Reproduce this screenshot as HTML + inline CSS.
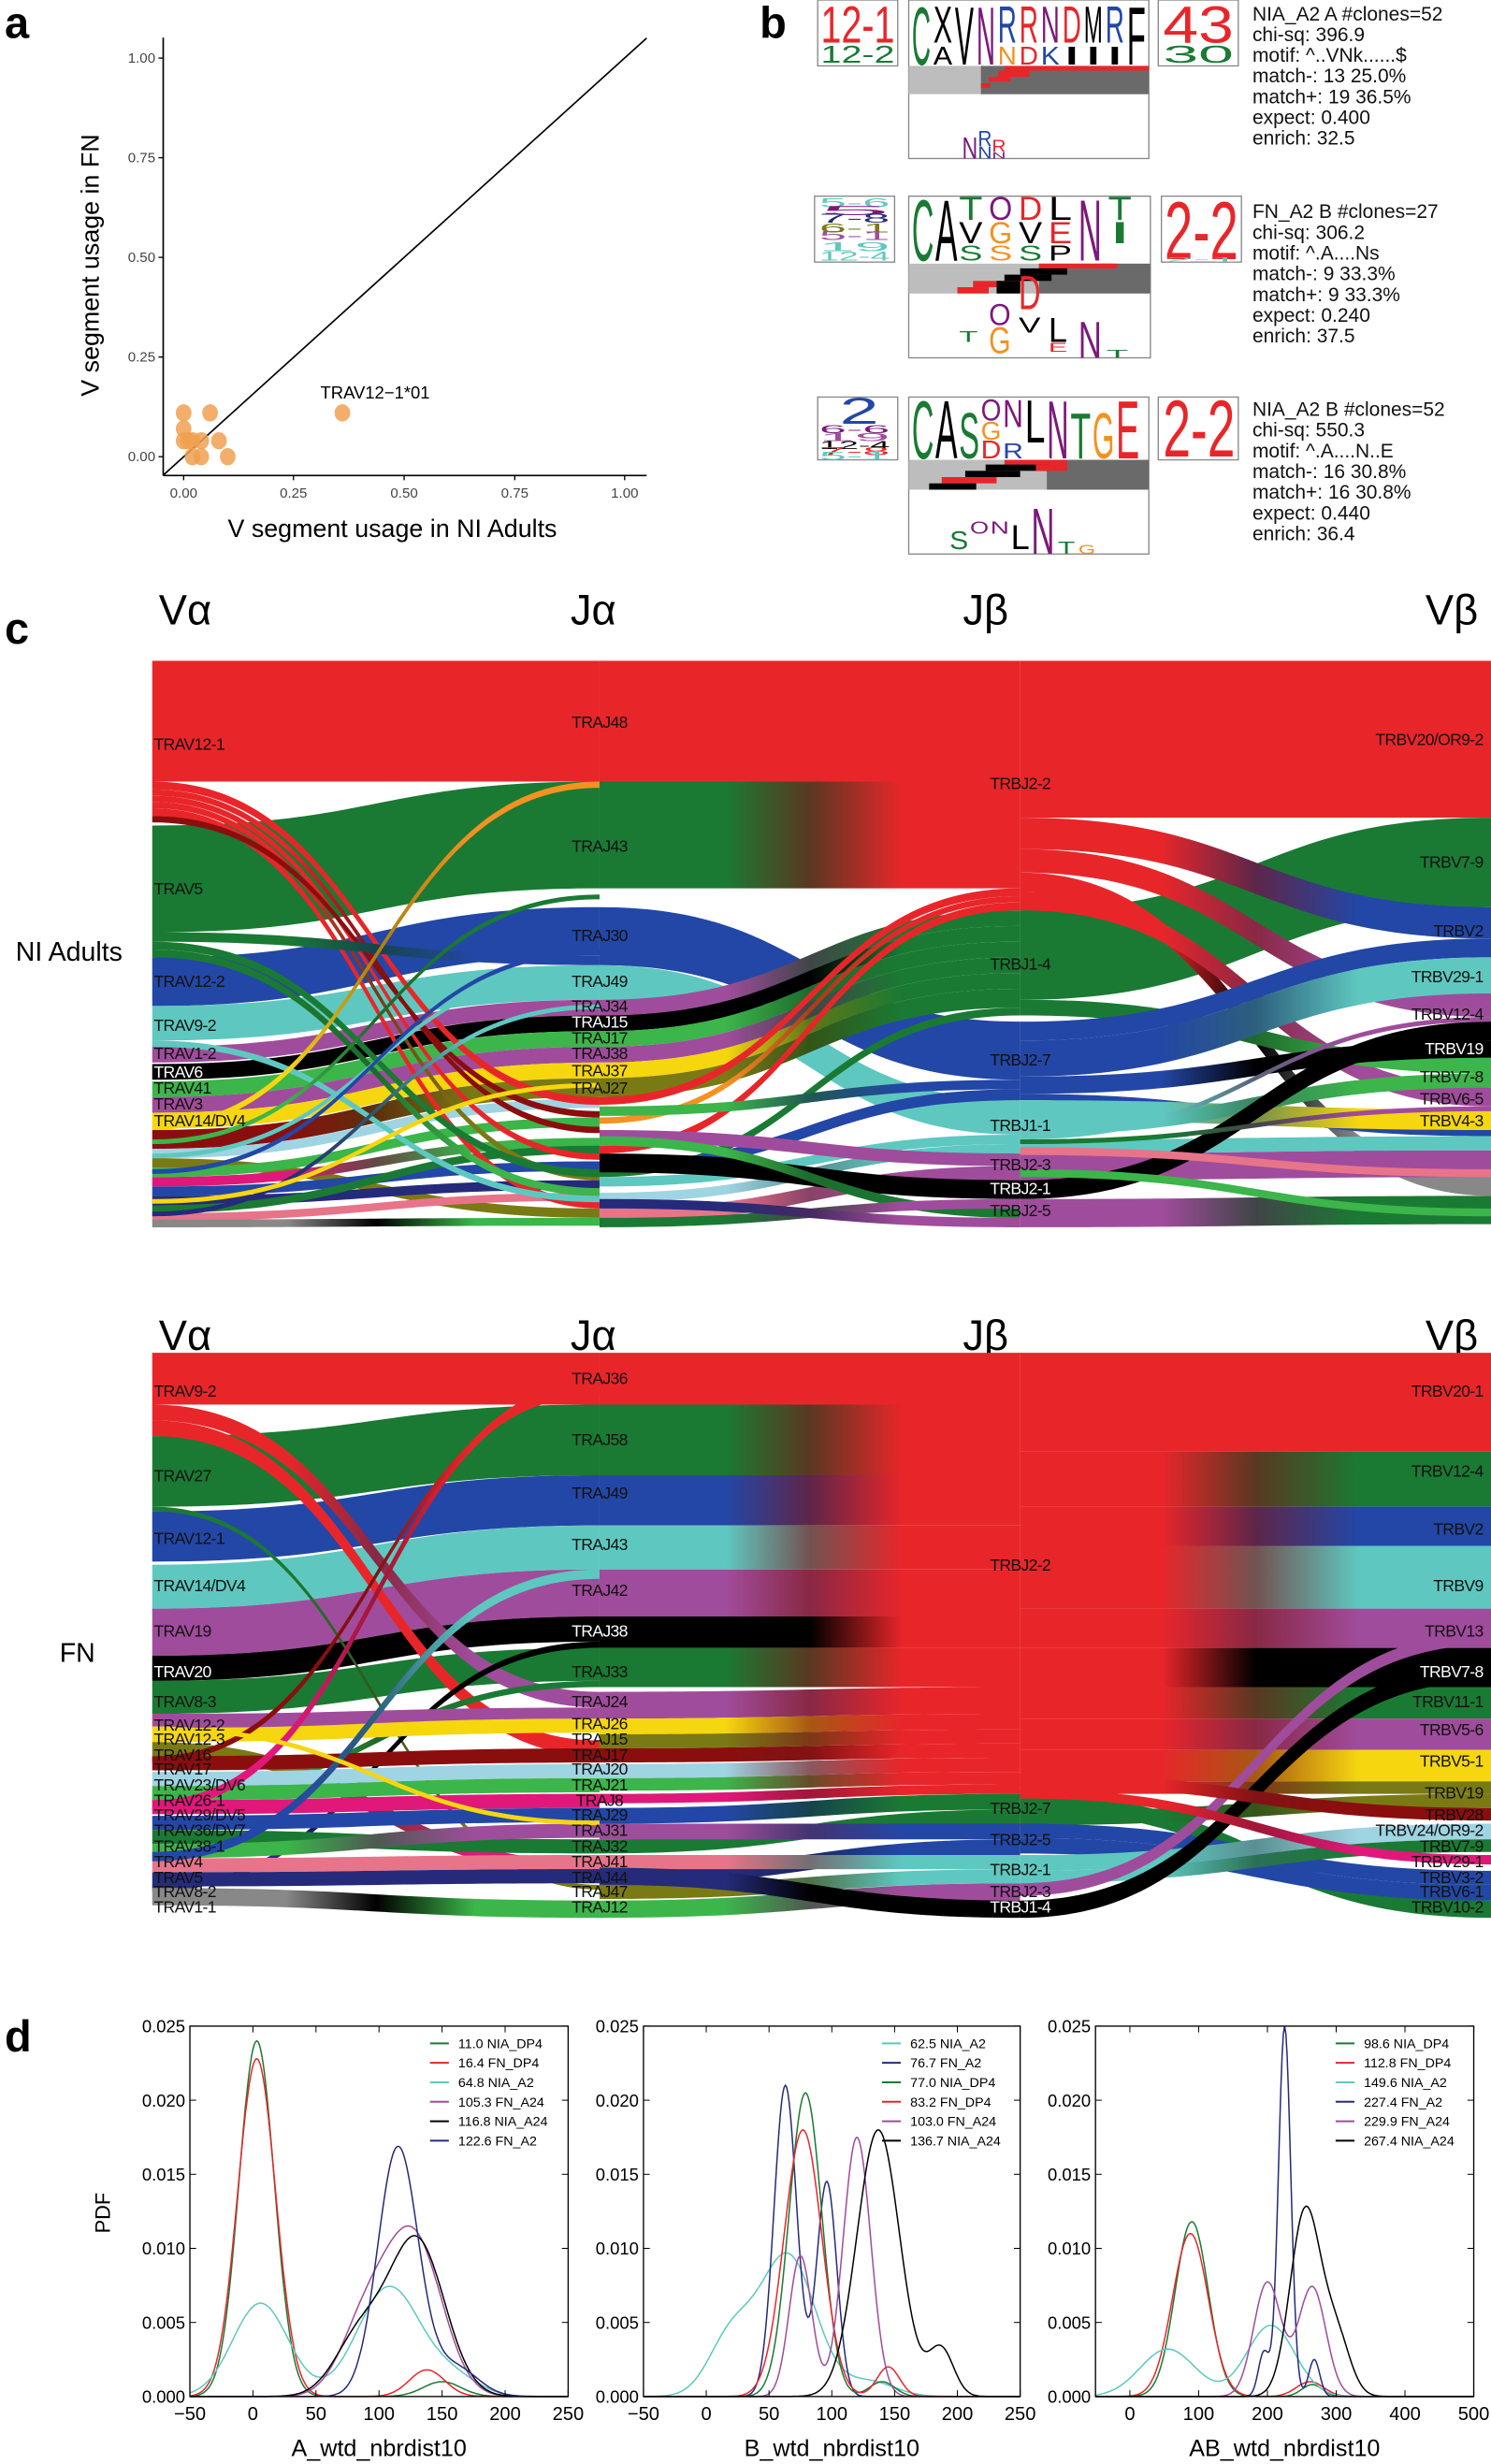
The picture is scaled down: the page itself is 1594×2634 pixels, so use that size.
<!DOCTYPE html>
<html><head><meta charset="utf-8"><style>
html,body{margin:0;padding:0;background:#fff;}
svg{display:block;font-family:"Liberation Sans",sans-serif;}
</style></head><body>
<svg id="s" width="1594" height="2634" viewBox="0 0 950 1570" preserveAspectRatio="none" xmlns="http://www.w3.org/2000/svg">
<defs id="defs"></defs>
<rect width="950" height="1570" fill="#fff"/>
<text x="3" y="24" font-size="28" font-weight="bold">a</text>
<g font-size="9" fill="#444">
<line x1="104" y1="24" x2="104" y2="303" stroke="#000" stroke-width="1"/>
<line x1="104" y1="303" x2="412" y2="303" stroke="#000" stroke-width="1"/>
<g stroke="#000" stroke-width="0.8">
<line x1="101" y1="37" x2="104" y2="37"/><line x1="101" y1="100.5" x2="104" y2="100.5"/><line x1="101" y1="164" x2="104" y2="164"/><line x1="101" y1="227.5" x2="104" y2="227.5"/><line x1="101" y1="291" x2="104" y2="291"/>
<line x1="117" y1="303" x2="117" y2="306"/><line x1="187" y1="303" x2="187" y2="306"/><line x1="257.5" y1="303" x2="257.5" y2="306"/><line x1="328" y1="303" x2="328" y2="306"/><line x1="398" y1="303" x2="398" y2="306"/>
</g>
<g text-anchor="end"><text x="99" y="40">1.00</text><text x="99" y="103.5">0.75</text><text x="99" y="167">0.50</text><text x="99" y="230.5">0.25</text><text x="99" y="294">0.00</text></g>
<g text-anchor="middle"><text x="117" y="317">0.00</text><text x="187" y="317">0.25</text><text x="257.5" y="317">0.50</text><text x="328" y="317">0.75</text><text x="398" y="317">1.00</text></g>
</g>
<line x1="104" y1="302.8" x2="412" y2="24.3" stroke="#000" stroke-width="1"/>
<g fill="#f0a050" fill-opacity="0.85" id="pts"></g>
<text x="239" y="254" font-size="11" text-anchor="middle">TRAV12−1*01</text>
<text x="250" y="342" font-size="16" text-anchor="middle">V segment usage in NI Adults</text>
<text transform="translate(63,169) rotate(-90)" font-size="16" text-anchor="middle">V segment usage in FN</text>
<text x="484" y="24" font-size="28" font-weight="bold">b</text>
<g id="logos"></g>
<g font-size="12.5" fill="#111" id="btext"></g>
<text x="3" y="410" font-size="28" font-weight="bold">c</text>
<g font-size="27" text-anchor="middle">
<text x="118" y="398">Vα</text><text x="378" y="398">Jα</text><text x="628" y="398">Jβ</text><text x="925" y="398">Vβ</text>
<text x="118" y="860">Vα</text><text x="378" y="860">Jα</text><text x="628" y="860">Jβ</text><text x="925" y="860">Vβ</text>
</g>
<text x="10" y="612" font-size="17">NI Adults</text>
<text x="38" y="1059" font-size="17">FN</text>
<g id="sank"></g>
<g id="slab" font-size="10.5" letter-spacing="-0.4" dominant-baseline="middle"></g>
<text x="3" y="1307" font-size="28" font-weight="bold">d</text>
<g id="pd"></g>
</svg>
<script>
const NS="http://www.w3.org/2000/svg";
function el(tag,attrs,parent,txt){const e=document.createElementNS(NS,tag);for(const k in attrs)e.setAttribute(k,attrs[k]);if(txt!==undefined)e.textContent=txt;parent.appendChild(e);return e;}
const pts=[[0,0.11],[0.06,0.11],[0,0.07],[0,0.04],[0.01,0.04],[0.02,0.04],[0.04,0.04],[0.08,0.04],[0.02,0],[0.04,0],[0.1,0],[0.36,0.11]];
const pg=document.getElementById('pts');
pts.forEach(p=>el('ellipse',{cx:117+p[0]*281,cy:291-p[1]*254,rx:5,ry:5.5},pg));
const lg=document.getElementById('logos');
function box(x,y,w,h){el('rect',{x:x,y:y,width:w,height:h,fill:'none',stroke:'#888','stroke-width':0.8},lg);}
function L(ch,x,yb,w,h,c){el('text',{x:0,y:0,'font-size':10,fill:c,textLength:w,lengthAdjust:'spacingAndGlyphs',transform:`translate(${x},${yb}) scale(1,${h/7.2})`},lg,ch);}
const R='#e8262a',G='#1a7a33',B='#2347a6',T='#5ec8c0',P='#a04c9c',K='#000',LG='#3cb54a',Y='#f6d60f',O='#7a7a14',DR='#8b0e0e',LB='#9fd4e3',PK='#e0187a',N='#252b7a',GR='#888',SA='#e8748a',OR='#f39220',PU='#7b1a7b',BL='#1f5fbf';
function band(x,y,w,h,split,rows){
 el('rect',{x:x,y:y,width:w,height:h,fill:'#bdbdbd'},lg);
 el('rect',{x:split,y:y,width:x+w-split,height:h,fill:'#6a6a6a'},lg);
 rows.forEach(r=>el('rect',{x:r[0],y:r[1],width:r[2],height:r[3],fill:r[4]},lg));
}
box(521,0,51,42);box(579,0,153,101);box(738,0,51,42);
L('12-1',523,27,47,24,R);L('12-2',523,40,47,11,G);
L('43',741,27,45,24,R);L('30',741,40,45,11,G);
const r1t='CXVNRRNDMRF',r1c=[G,K,K,PU,B,R,PU,R,K,B,K];
const r1b=' A KNDKIII',r1bc=[G,K,K,B,OR,R,B,K,K,K];
L('C',581,41,12,38,G);
for(let i=1;i<11;i++){const x=581+i*13.7;if(i===2||i===3||i===10){L(r1t[i],x,41,12,38,r1c[i]);continue;}L(r1t[i],x,27,12,24,r1c[i]);if(r1b[i]&&r1b[i]!==' ')L(r1b[i],x,41,12,12,r1bc[i]);}
L('A',594.7,41,12,12,K);
band(579,42,153,18,625,[[640,42,92,3,R],[636,45,20,4,R],[630,49,14,3,R],[625,53,6,3,R]]);
L('N',613,101,10,14,PU);L('R',623,93,9,10,B);L('N',623,101,9,8,B);L('R',632,97,9,8,R);L('N',632,101,9,4,PU);
const tb=(y0,lines)=>{const g=document.getElementById('btext');lines.forEach((s,i)=>el('text',{x:798,y:y0+i*13.2},g,s));};
tb(13,['NIA_A2 A #clones=52','chi-sq: 396.9','motif: ^..VNk......$','match-: 13 25.0%','match+: 19 36.5%','expect: 0.400','enrich: 32.5']);
box(519,125,51,42);box(579,125,154,103);box(740,125,51,42);
[['5-6',T,132],['5',PU,137],['7-8',N,142],['6-1',O,148],['5-1',P,153],['19',T,160],['12-4',T,166]].forEach(a=>L(a[0],522,a[2],45,6,a[1]));
L('2-2',742,165,47,38,R);L('2-1',742,167,47,3,T);
L('C',581,166,14,40,G);L('A',596,166,14,40,K);
const r2=[['T',G,'V',K,'S',G],['O',PU,'G',OR,'S',OR],['D',R,'V',K,'S',G],['L',K,'E',R,'P',K],['N',PU],['T',G,'I',G]];
r2.forEach((c,i)=>{const x=611+i*19;if(c.length===2){L(c[0],x,166,15,40,c[1]);}else{L(c[0],x,140,15,15,c[1]);L(c[2],x,155,15,14,c[3]);L(c[4],x,166,15,10,c[5]);}});
band(579,168,154,19,662,[[662,168,50,3,R],[650,171,30,4,K],[640,175,30,4,K],[620,179,30,4,R],[610,183,20,4,R],[635,179,15,8,K],[700,168,10,3,R]]);
L('O',630,207,14,14,PU);L('D',649,197,14,22,R);L('T',611,218,12,7,G);L('G',630,225,14,17,OR);L('V',649,212,14,10,K);L('L',668,218,12,16,K);L('E',668,224,12,6,R);L('N',687,228,15,24,PU);L('T',705,228,14,5,G);
tb(139,['FN_A2 B #clones=27','chi-sq: 306.2','motif: ^.A....Ns','match-: 9 33.3%','match+: 9 33.3%','expect: 0.240','enrich: 37.5']);
box(521,253,51,40);box(579,253,153,100);box(738,253,51,40);
L('2',535,270,25,17,B);[['6-6',PU,276],['19',P,281],['12-4',K,286],['7-8',R,290],['5-1',T,293]].forEach(a=>L(a[0],522,a[2],45,5,a[1]));
L('2-2',741,291,46,37,R);
L('C',581,292,14,38,G);L('A',596,292,14,38,K);
L('S',611,292,13,30,G);L('O',625,268,13,14,PU);L('G',625,280,13,12,OR);L('D',625,292,13,12,R);L('N',639,272,13,18,PU);L('R',639,292,13,10,B);L('L',653,282,13,28,K);L('N',667,292,14,38,PU);L('T',682,292,13,30,G);L('G',696,292,14,30,OR);L('E',711,292,15,38,R);
band(579,293,153,19,667,[[640,293,40,3,R],[628,296,40,4,K],[615,300,35,4,K],[600,304,35,4,R],[592,308,30,4,K],[660,296,20,4,R]]);
L('S',605,350,12,12,G);L('O',618,340,12,8,PU);L('N',631,340,12,8,PU);L('L',644,350,12,16,K);L('N',657,353,15,30,PU);L('T',674,353,11,8,G);L('G',687,353,11,6,OR);
tb(265,['NIA_A2 B #clones=52','chi-sq: 550.3','motif: ^.A....N..E','match-: 16 30.8%','match+: 16 30.8%','expect: 0.440','enrich: 36.4']);

const defs=document.getElementById('defs'),sg=document.getElementById('sank');
const X=[97,382,650,950];let gid=0;
function F(seg,y0,y1,h,c0,c1){
 const x0=X[seg],x1=X[seg+1],xm=(x0+x1)/2;
 let fill=c0;
 if(c0!==c1){const id='g'+(gid++);const g=el('linearGradient',{id:id,gradientUnits:'userSpaceOnUse',x1:x0,x2:x1,y1:0,y2:0},defs);
  el('stop',{offset:0.3,'stop-color':c0},g);el('stop',{offset:0.5,'stop-color':mix(c0,c1)},g);el('stop',{offset:0.72,'stop-color':c1},g);fill='url(#'+id+')';}
 el('path',{d:`M${x0},${y0}C${xm},${y0} ${xm},${y1} ${x1},${y1}L${x1},${y1+h}C${xm},${y1+h} ${xm},${y0+h} ${x0},${y0+h}Z`,fill:fill},sg);
}
function mix(a,b){const p=s=>[1,3,5].map(i=>parseInt(s.substr(i,2),16));const A=p(a),Bc=p(b);return 'rgb('+A.map((v,i)=>Math.round((v+Bc[i])/2*0.7)).join(',')+')';}
[[421,421,77,R,R],[526,498,68,G,G],[610,578,31,B,B],[641,615,22,T,T],[667,637,10,P,P],[678,647,10,K,K],[689,657,10,LG,LG],[699,667,10,P,P],[709,677,10,Y,Y],
[720,687,12,DR,O],[732,700,6,LB,LB],[738,770,6,O,O],[744,712,6,LG,LG],[750,725,6,PK,LG],[756,740,6,B,B],[762,752,6,N,N],[768,730,5,G,G],[773,760,5,SA,SA],[777,776,5,GR,LG],
[498,699,5,R,R],[503,718,4,R,DR],[507,735,4,R,R],[511,748,4,R,O],[515,765,5,R,R],[520,708,4,DR,DR],
[594,609,6,G,B],[600,745,5,G,G],[605,757,5,G,LG],[663,762,4,T,T],
[716,498,4,Y,OR],[726,570,3,LG,G],[735,615,3,T,T],[745,605,3,B,B],[772,640,3,N,T],[764,690,3,Y,Y]
].forEach(a=>F(0,...a));
[[421,421,77,R,R],[498,498,68,G,R],[578,651,37,B,B],[615,701,22,T,T],
[637,580,10,P,G],[647,590,10,K,G],[657,600,10,LG,G],[667,610,10,P,G],[677,620,10,Y,G],[687,630,12,O,G],
[699,566,5,R,R],[712,571,4,OR,R],[730,575,5,R,R],[745,642,5,G,G],
[705,688,6,LG,B],[740,694,7,B,B],[750,723,6,T,T],[760,729,6,LB,T],[720,735,8,P,P],[770,743,9,SA,P],[735,752,12,K,K],[724,770,6,LG,G],[776,764,6,G,P],[764,776,6,N,P]
].forEach(a=>F(1,...a));
[[421,421,100,R,R],[580,521,57,G,G],[521,578,20,R,B],[541,633,15,R,P],[556,750,12,R,GR],[568,693,12,R,P],[637,674,10,G,LG],
[651,598,12,B,B],[663,610,23,B,T],[686,663,11,B,K],[697,720,4,B,B],[701,707,13,T,Y],[714,684,9,T,LG],[723,648,3,T,P],[726,724,9,T,T],
[735,733,17,P,P],[752,651,12,K,K],[764,762,18,P,G],[726,705,3,G,P],[731,745,5,SA,SA],[745,770,5,LG,LG]
].forEach(a=>F(2,...a));
[[862,862,33,R,R],[915,895,45,G,G],[963,940,32,B,B],[997,972,28,T,T],[1025,1000,30,P,P],[1055,1030,16,K,K],[1071,1050,21,G,G],
[895,1078,10,R,P],[905,1109,10,R,R],[960,1201,3,G,O],[1201,1046,4,N,K],[1143,1071,4,LG,G],
[1092,1088,9,P,P],[1101,1095,9,Y,Y],[1110,1186,9,O,PK],[1119,1114,9,DR,DR],[1129,1124,9,LB,LB],[1138,1133,9,LG,LG],[1147,1143,9,PK,PK],[1157,1152,9,B,B],[1166,1172,9,G,G],[1175,1162,9,LG,P],[1184,1182,9,SA,SA],[1193,1191,9,N,N],[1203,1211,11,GR,LG],
[1147,880,6,PK,R],[1119,885,4,DR,R],[1180,1000,6,B,T],[1100,1160,3,Y,Y]
].forEach(a=>F(0,...a));
[[862,862,33,R,R],[895,895,45,G,R],[940,940,32,B,R],[972,972,28,T,R],[1000,1000,30,P,R],[1030,1030,20,K,R],[1050,1050,25,G,R],[1078,1075,17,P,R],[1095,1092,10,Y,R],[1105,1102,9,O,R],[1114,1111,9,DR,R],[1124,1120,9,LB,R],[1133,1129,8,LG,R],[1143,1137,6,PK,R],
[1152,1143,10,B,G],[1172,1153,9,G,G],[1162,1162,10,P,B],[1191,1172,10,N,B],[1182,1182,9,SA,T],[1201,1191,9,O,T],[1211,1200,11,LG,P],[1190,1211,11,N,K]
].forEach(a=>F(1,...a));
[[862,862,63,R,R],[925,925,35,R,G],[960,960,25,R,B],[985,985,40,R,T],[1025,1025,25,R,P],[1050,1050,25,R,K],[1075,1075,20,R,G],[1095,1095,20,R,P],[1115,1115,20,R,Y],[1135,1135,8,R,O],
[1143,1211,11,G,G],[1154,1143,9,G,O],[1162,1192,9,B,B],[1171,1201,10,B,B],[1182,1162,10,T,LB],[1192,1172,8,T,G],[1200,1040,8,P,P],[1211,1060,11,K,K],[1130,1152,8,R,DR],[1140,1182,6,R,PK]
].forEach(a=>F(2,...a));
const sl=document.getElementById('slab');
function lab(x,y,t,anchor,white){el('text',{x:x,y:y,'text-anchor':anchor,fill:white?'#fff':'#111'},sl,t);}
[['TRAV12-1',475],['TRAV5',567],['TRAV12-2',626],['TRAV9-2',654],['TRAV1-2',672],['TRAV6',684,1],['TRAV41',694],['TRAV3',704],['TRAV14/DV4',715]].forEach(a=>lab(98,a[1],a[0],'start',a[2]));
[['TRAJ48',461],['TRAJ43',540],['TRAJ30',597],['TRAJ49',626],['TRAJ34',642],['TRAJ15',652,1],['TRAJ17',662],['TRAJ38',672],['TRAJ37',683],['TRAJ27',694]].forEach(a=>lab(382,a[1],a[0],'middle',a[2]));
[['TRBJ2-2',500],['TRBJ1-4',615],['TRBJ2-7',676],['TRBJ1-1',718],['TRBJ2-3',743],['TRBJ2-1',758,1],['TRBJ2-5',772]].forEach(a=>lab(650,a[1],a[0],'middle',a[2]));
[['TRBV20/OR9-2',472],['TRBV7-9',550],['TRBV2',594],['TRBV29-1',623],['TRBV12-4',647],['TRBV19',669,1],['TRBV7-8',687],['TRBV6-5',701],['TRBV4-3',715]].forEach(a=>lab(945,a[1],a[0],'end',a[2]));
[['TRAV9-2',887],['TRAV27',941],['TRAV12-1',981],['TRAV14/DV4',1011],['TRAV19',1040],['TRAV20',1066,1],['TRAV8-3',1085],['TRAV12-2',1100],['TRAV12-3',1109],['TRAV16',1119],['TRAV17',1128],['TRAV23/DV6',1138],['TRAV26-1',1148],['TRAV29/DV5',1157],['TRAV36/DV7',1167],['TRAV38-1',1177],['TRAV4',1187],['TRAV5',1197],['TRAV8-2',1206],['TRAV1-1',1216]].forEach(a=>lab(98,a[1],a[0],'start',a[2]));
[['TRAJ36',879],['TRAJ58',918],['TRAJ49',952],['TRAJ43',985],['TRAJ42',1014],['TRAJ38',1040,1],['TRAJ33',1066],['TRAJ24',1085],['TRAJ26',1099],['TRAJ15',1109],['TRAJ17',1119],['TRAJ20',1128],['TRAJ21',1138],['TRAJ8',1148],['TRAJ29',1157],['TRAJ31',1167],['TRAJ32',1177],['TRAJ41',1187],['TRAJ44',1197],['TRAJ47',1206],['TRAJ12',1216]].forEach(a=>lab(382,a[1],a[0],'middle',a[2]));
[['TRBJ2-2',998],['TRBJ2-7',1153],['TRBJ2-5',1173],['TRBJ2-1',1192],['TRBJ2-3',1206],['TRBJ1-4',1216,1]].forEach(a=>lab(650,a[1],a[0],'middle',a[2]));
[['TRBV20-1',887],['TRBV12-4',938],['TRBV2',975],['TRBV9',1011],['TRBV13',1040],['TRBV7-8',1066,1],['TRBV11-1',1085],['TRBV5-6',1103],['TRBV5-1',1123],['TRBV19',1143],['TRBV28',1157],['TRBV24/OR9-2',1167],['TRBV7-9',1177],['TRBV29-1',1187],['TRBV3-2',1197],['TRBV6-1',1206],['TRBV10-2',1216]].forEach(a=>lab(945,a[1],a[0],'end',a[2]));

const pd=document.getElementById('pd');
const Y0=1527,Y1=1291;
const panels=[
 {x0:121,x1:362,lo:-50,hi:250,ticks:[-50,0,50,100,150,200,250],title:'A_wtd_nbrdist10',
  series:[['11.0 NIA_DP4',G,[[0.024,3,14],[0.001,150,15]]],['16.4 FN_DP4',R,[[0.0228,3,15],[0.0018,138,14]]],['64.8 NIA_A2',T,[[0.0063,6,22],[0.0074,108,25],[0.0012,160,20]]],['105.3 FN_A24',P,[[0.005,90,20],[0.0105,128,22]]],['116.8 NIA_A24',K,[[0.004,85,20],[0.0105,130,22]]],['122.6 FN_A2',N,[[0.0168,115,16],[0.002,160,18]]]]},
 {x0:410,x1:650,lo:-50,hi:250,ticks:[-50,0,50,100,150,200,250],title:'B_wtd_nbrdist10',
  series:[['62.5 NIA_A2',T,[[0.004,20,18],[0.0095,65,22],[0.001,130,20]]],['76.7 FN_A2',N,[[0.021,63,9],[0.0145,96,8]]],['77.0 NIA_DP4',G,[[0.0205,79,13],[0.001,140,10]]],['83.2 FN_DP4',R,[[0.018,77,15],[0.002,145,9]]],['103.0 FN_A24',P,[[0.0095,75,9],[0.0175,120,11]]],['136.7 NIA_A24',K,[[0.018,137,17],[0.0032,187,10]]]]},
 {x0:698,x1:939,lo:-50,hi:500,ticks:[0,100,200,300,400,500],title:'AB_wtd_nbrdist10',
  series:[['98.6 NIA_DP4',G,[[0.0118,90,24],[0.0008,265,15]]],['112.8 FN_DP4',R,[[0.011,88,26],[0.001,262,20]]],['149.6 NIA_A2',T,[[0.0032,55,40],[0.0048,205,35]]],['227.4 FN_A2',N,[[0.025,225,9],[0.003,195,8],[0.0025,268,8]]],['229.9 FN_A24',P,[[0.0077,200,20],[0.0074,265,20]]],['267.4 NIA_A24',K,[[0.0125,255,22],[0.004,300,20]]]]}
];
panels.forEach((p,pi)=>{
 const sx=v=>p.x0+(v-p.lo)/(p.hi-p.lo)*(p.x1-p.x0), sy=v=>Y0-v/0.025*(Y0-Y1);
 p.series.forEach(s=>{let d='';for(let i=0;i<=300;i++){const v=p.lo+(p.hi-p.lo)*i/300;let y=0;s[2].forEach(g=>{y+=g[0]*Math.exp(-0.5*((v-g[1])/g[2])**2);});d+=(i?'L':'M')+sx(v).toFixed(1)+','+sy(Math.min(y,0.0251)).toFixed(1);}
  el('path',{d:d,fill:'none',stroke:s[1],'stroke-width':0.9},pd);});
 el('rect',{x:p.x0,y:Y1,width:p.x1-p.x0,height:Y0-Y1,fill:'none',stroke:'#000','stroke-width':0.8},pd);
 for(let k=0;k<=5;k++){const v=k*0.005,y=sy(v);el('line',{x1:p.x0,x2:p.x0+4,y1:y,y2:y,stroke:'#000','stroke-width':0.6},pd);el('line',{x1:p.x1,x2:p.x1-4,y1:y,y2:y,stroke:'#000','stroke-width':0.6},pd);
  el('text',{x:p.x0-3,y:y+4,'font-size':11,'text-anchor':'end'},pd,v.toFixed(3));}
 p.ticks.forEach(t=>{const x=sx(t);el('line',{x1:x,x2:x,y1:Y0,y2:Y0-4,stroke:'#000','stroke-width':0.6},pd);el('line',{x1:x,x2:x,y1:Y1,y2:Y1+4,stroke:'#000','stroke-width':0.6},pd);
  el('text',{x:x,y:1542,'font-size':12,'text-anchor':'middle'},pd,(t<0?'−':'')+Math.abs(t));});
 el('text',{x:(p.x0+p.x1)/2,y:1565,'font-size':15,'text-anchor':'middle'},pd,p.title);
 p.series.forEach((s,i)=>{const y=1302+i*12.4;el('line',{x1:p.x1-88,x2:p.x1-76,y1:y,y2:y,stroke:s[1],'stroke-width':1.2},pd);
  el('text',{x:p.x1-70,y:y+3,'font-size':8.5},pd,s[0]);});
});
el('text',{transform:'translate(70,1410) rotate(-90)','font-size':13,'text-anchor':'middle'},pd,'PDF');
</script>
</body></html>
